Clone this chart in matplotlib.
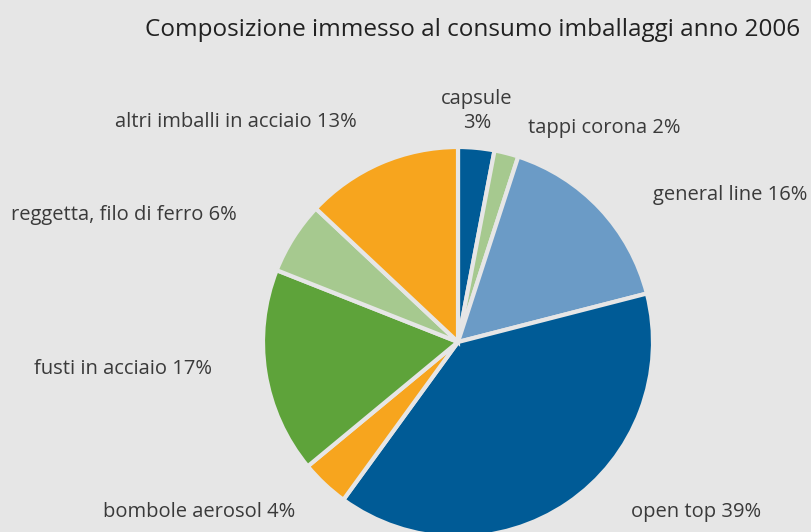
import matplotlib
matplotlib.use("Agg")
import matplotlib.pyplot as plt

# dati
categorie = ["capsule", "tappi corona", "general line", "open top",
             "bombole aerosol", "fusti in acciaio", "reggetta, filo di ferro",
             "altri imballi in acciaio"]
percentuali = [3, 2, 16, 39, 4, 17, 6, 13]
colori = ["#005b96", "#a6c98f", "#6b9bc6", "#005b96",
          "#f7a51e", "#5ea33a", "#a6c98f", "#f7a51e"]

titolo = "Composizione immesso al consumo imballaggi anno 2006"

sfondo = "#e6e6e6"
plt.rcParams['font.family'] = ['Open Sans', 'DejaVu Sans']

fig = plt.figure(figsize=(8.11, 5.32), dpi=100, facecolor=sfondo)

# centro della torta a (458, 342) px, raggio 195 px
cx, cy, r = 458, 342, 195
W, H = 811, 532
ax = fig.add_axes([(cx - r) / W, (H - cy - r) / H, 2 * r / W, 2 * r / H])
ax.set_facecolor(sfondo)
ax.pie(percentuali, colors=colori, startangle=90, counterclock=False,
       radius=1, wedgeprops=dict(edgecolor=sfondo, linewidth=3))
ax.set_xlim(-1, 1)
ax.set_ylim(-1, 1)
ax.set_aspect('equal')
ax.axis('off')

# posizione etichette (x, y, allineamento) in coordinate dati
pos = [(0.097, 1.185, 'center'), (0.359, 1.097, 'left'), (1.0, 0.754, 'left'),
       (0.887, -0.872, 'left'), (-0.836, -0.872, 'right'), (-1.262, -0.138, 'right'),
       (-1.133, 0.651, 'right'), (-0.518, 1.128, 'right')]

for nome, v, (x, y, ha) in zip(categorie, percentuali, pos):
    testo = f"{nome}\n{v}%" if nome == "capsule" else f"{nome} {v}%"
    ax.text(x, y, testo, ha=ha, va='center', fontsize=14.5, color="#3a3a3a",
            clip_on=False, linespacing=1.3)

fig.text(800 / W, 1 - 30 / H, titolo, ha='right', va='center',
         fontsize=17.5, color="#222222")

fig.savefig("out.png", dpi=100, facecolor=sfondo)
